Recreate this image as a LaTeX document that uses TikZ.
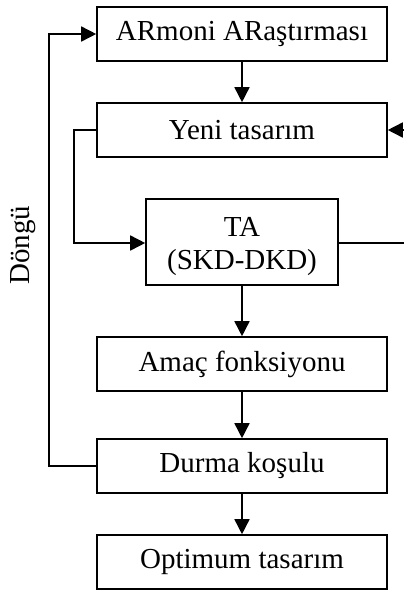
\documentclass[tikz,border=0pt]{standalone}
\usepackage{fontspec}
\setmainfont{Liberation Serif}
\usetikzlibrary{arrows.meta}
\begin{document}
\begin{tikzpicture}[x=1pt,y=-1pt,
  box/.style={draw,line width=1.6pt,rectangle,inner sep=0pt,align=center,
    minimum width=290pt,minimum height=54pt,
    font=\fontsize{29}{33}\selectfont},
  conn/.style={line width=1.6pt},
  arr/.style={line width=1.6pt,-{Triangle[length=15pt,width=15pt]}}]
\useasboundingbox (0,0) rectangle (404,590);
\node[box] (arm) at (242,34) {ARmoni ARaştırması};
\node[box] (yeni) at (242,130) {Yeni tasarım};
\node[box,minimum width=192pt,minimum height=86pt] (ta) at (242,242) {\raisebox{-4pt}[\height][\depth]{\begin{tabular}{@{}c@{}}TA\\[0pt](SKD-DKD)\end{tabular}}};
\node[box] (amac) at (242,364) {Amaç fonksiyonu};
\node[box] (durma) at (242,466) {Durma koşulu};
\node[box] (opt) at (242,562) {Optimum tasarım};
\node[rotate=90,font=\fontsize{29}{34}\selectfont] (dongu) at (23,245) {Döngü};
\coordinate (rin) at (406,130);
\coordinate (rout) at (406,243);
\draw[arr] (arm.south) -- (yeni.north);
\draw[arr] (ta.south) -- (amac.north);
\draw[arr] (amac.south) -- (durma.north);
\draw[arr] (durma.south) -- (opt.north);
\draw[arr] (yeni.west) -- (74,130) -- (74,243) -- (ta.west |- rout);
\draw[arr] (durma.west) -- (49,466) -- (49,34) -- (arm.west);
\draw[arr] (rin) -- (yeni.east);
\draw[conn] (ta.east |- rout) -- (rout);
\end{tikzpicture}
\end{document}
